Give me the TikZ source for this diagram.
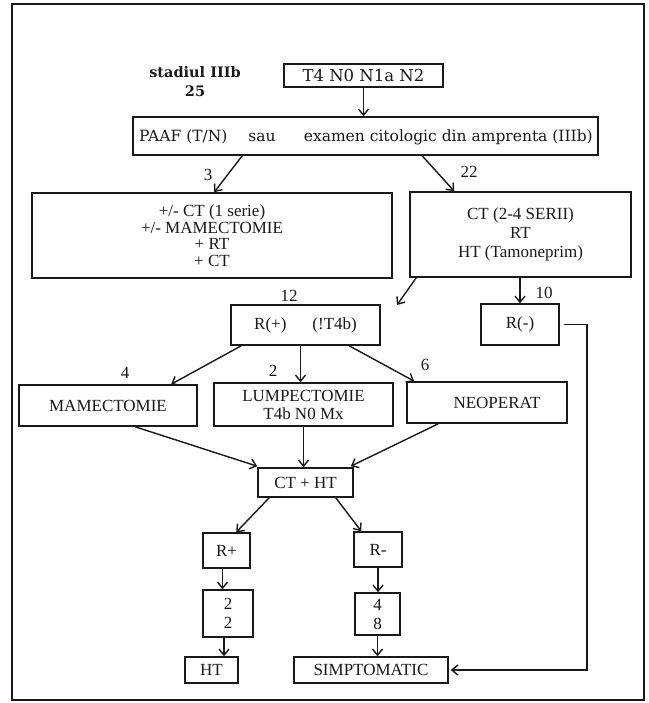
\documentclass[tikz,border=0pt]{standalone}
\usepackage{fontspec}
\setmainfont{Liberation Serif}
\newfontfamily\bk{DejaVu Serif}
\usetikzlibrary{arrows.meta}
\tikzset{
  box/.style={draw, line width=1.6pt, inner sep=0pt, align=center,
    font=\fontsize{17}{16.5}\selectfont},
  lbl/.style={inner sep=0pt, font=\fontsize{17}{18}\selectfont},
  conn/.style={line width=1.4pt, -{Straight Barb[length=6pt,width=10pt,line width=1.4pt]}},
}
\begin{document}
\begin{tikzpicture}[x=1pt,y=-1pt, color=black!90]
\useasboundingbox (0,0) rectangle (648,703);
\fill[white] (0,0) rectangle (648,703);
\draw[line width=1.9pt] (12,4) rectangle (644,700);

% nodes
\node[box, minimum width=159pt, minimum height=23pt, font=\bk\fontsize{16.5}{16}\selectfont] (t4) at (363.5,75.5) {T4 N0 N1a N2};
\node[inner sep=0pt, align=center, font=\bk\bfseries\fontsize{14.5}{19}\selectfont] (stad) at (195,82) {stadiul IIIb\\25};
\node[box, minimum width=465pt, minimum height=38pt] (paaf) at (365.5,136) {};
\node[inner sep=0pt, anchor=base west, font=\bk\fontsize{15.5}{16}\selectfont] (paafA) at (139,142) {PAAF (T/N)};
\node[inner sep=0pt, anchor=base, font=\bk\fontsize{15.5}{16}\selectfont] (paafB) at (262,142) {sau};
\node[inner sep=0pt, anchor=base east, font=\bk\fontsize{15.5}{16}\selectfont] (paafC) at (593,142) {examen citologic din amprenta (IIIb)};

\node[box, minimum width=360pt, minimum height=85pt] (lbox) at (212,235.5) {+/- CT (1 serie)\\+/- MAMECTOMIE\\+ RT\\+ CT};
\node[box, minimum width=221pt, minimum height=85pt, font=\fontsize{17}{19}\selectfont] (rbox) at (520.5,234.5) {CT (2-4 SERII)\\RT\\HT (Tamoneprim)};

\node[box, minimum width=149pt, minimum height=40pt] (rplus) at (305.5,325) {R(+)\hspace{26pt}(!T4b)};
\node[box, minimum width=78pt, minimum height=41pt] (rminus) at (520,324.5) {R(-)};

\node[box, minimum width=178pt, minimum height=41pt] (mam) at (108,405.5) {MAMECTOMIE};
\node[box, minimum width=179pt, minimum height=43pt, font=\fontsize{17}{18}\selectfont] (lump) at (303.5,404.5) {LUMPECTOMIE\\T4b N0 Mx};
\node[box, minimum width=160pt, minimum height=41pt] (neo) at (487,402.5) {\hspace{20pt}NEOPERAT};

\node[box, minimum width=95pt, minimum height=29pt] (ct) at (305.5,482.5) {CT + HT};
\node[box, minimum width=47pt, minimum height=35pt] (rp) at (226.5,550.5) {R+};
\node[box, minimum width=48pt, minimum height=35pt] (rm) at (378,549.5) {R-};
\node[box, minimum width=50pt, minimum height=47pt, font=\fontsize{17}{19}\selectfont] (b22) at (228,613.5) {2\\2};
\node[box, minimum width=45pt, minimum height=42pt, font=\fontsize{17}{19}\selectfont] (b48) at (377.5,614) {4\\8};
\node[box, minimum width=53pt, minimum height=26pt] (ht) at (211.5,670) {HT};
\node[box, minimum width=154pt, minimum height=26pt] (simp) at (371,670) {SIMPTOMATIC};

% labels
\node[lbl] (l3) at (208,175) {3};
\node[lbl] (l22) at (469,172) {22};
\node[lbl] (l12) at (289,296) {12};
\node[lbl] (l10) at (544,293) {10};
\node[lbl] (l4) at (125,373) {4};
\node[lbl] (l2) at (273,371) {2};
\node[lbl] (l6) at (425,365) {6};

\coordinate (rfree) at (397,305);

% connectors
\draw[conn] (t4.south) -- (t4.south |- paaf.north);
\draw[conn] ([xshift=110pt]paaf.south west) -- ([xshift=183pt]lbox.north west);
\draw[conn] ([xshift=290pt]paaf.south west) -- ([xshift=45pt]rbox.north west);
\draw[conn] ([xshift=7pt]rbox.south west) -- (rfree);
\draw[conn] (rminus.north |- rbox.south) -- (rminus.north);
\draw[conn] ([xshift=11pt]rplus.south west) -- ([xshift=153pt]mam.north west);
\draw[conn] ([xshift=-5pt]rplus.south) -- ([xshift=-5pt]rplus.south |- lump.north);
\draw[conn] ([xshift=119pt]rplus.south west) -- ([xshift=8pt]neo.north west);
\draw[conn] ([xshift=117pt]mam.south west) -- ([yshift=1pt]ct.north west);
\draw[conn] (lump.south) -- (lump.south |- ct.north);
\draw[conn] ([xshift=32pt]neo.south west) -- ([xshift=-3pt,yshift=1pt]ct.north east);
\draw[conn] ([xshift=12pt]ct.south west) -- ([xshift=34pt]rp.north west);
\draw[conn] ([xshift=-18pt]ct.south east) -- ([xshift=8pt]rm.north west);
\draw[conn] ([xshift=-4pt]rp.south) -- ([xshift=-4pt]rp.south |- b22.north);
\draw[conn] ([xshift=-4pt]b22.south) -- ([xshift=-4pt]b22.south |- ht.north);
\draw[conn] (rm.south) -- (rm.south |- b48.north);
\draw[conn] (b48.south) -- (b48.south |- simp.north);
\draw[conn] ([xshift=4pt]rminus.east) -- ++(23,0) |- ([xshift=2pt]simp.east);
\end{tikzpicture}
\end{document}
